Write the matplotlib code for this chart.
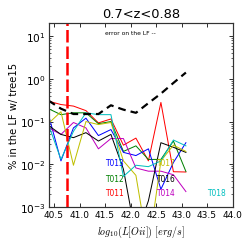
import matplotlib
matplotlib.use("Agg")
import matplotlib.pyplot as plt

plt.rcParams['mathtext.fontset'] = 'cm'

# luminosity bins, log10(L[OII]) in erg/s
lum = [40.39, 40.635, 40.88, 41.125, 41.37, 41.615, 41.86, 42.105, 42.35, 42.595, 42.84, 43.085]

t011 = [0.30, 0.25, 0.23, 0.18, 0.093, 0.115, 0.028, 0.041, 0.012, 0.28, 0.0067, 0.0066]
t012 = [0.20, 0.145, 0.16, 0.16, 0.089, 0.10, 0.020, 0.027, 0.013, 0.013, 0.035, 0.0068]
t013 = [0.145, 0.012, 0.071, 0.12, 0.047, 0.065, 0.019, 0.016, 0.023, 0.0026, 0.011, 0.032]
t014 = [0.071, 0.050, 0.095, 0.071, 0.023, 0.040, 0.040, 0.0082, 0.0069, 0.0069, 0.0057, 0.0023]
t016 = [0.081, 0.050, 0.042, 0.055, 0.035, 0.050, 0.0077, 0.0002, 0.0014, 0.032, 0.025, 0.019]
t017 = [0.09, 0.17, 0.0095, 0.10, 0.085, 0.095, 0.012, 0.0055, 0.0001, 0.012, 0.028, 0.020]
t018 = [0.085, 0.013, 0.059, 0.16, 0.145, 0.145, 0.0052, 0.0095, 0.0088, 0.012, 0.037, 0.027]
lf_error = [0.31, 0.20, 0.15, 0.15, 0.15, 0.24, 0.19, 0.16, 0.27, 0.45, 0.8, 1.4]

lum_limit = 40.75

series = [
    ("T011", t011, 'r', 41.5, 0.0022),
    ("T012", t012, 'g', 41.5, 0.0045),
    ("T013", t013, 'b', 41.5, 0.011),
    ("T014", t014, 'm', 42.5, 0.0022),
    ("T016", t016, 'k', 42.5, 0.0045),
    ("T017", t017, 'y', 42.5, 0.011),
    ("T018", t018, 'c', 43.5, 0.0022),
]

fig = plt.figure(figsize=(3.4, 3.4), dpi=72)
ax = fig.add_axes([0.2, 0.151, 0.75, 0.751])

for name, vals, col, tx, ty in series:
    ax.plot(lum, vals, color=col, lw=1)
    ax.text(tx, ty, name, color=col, fontsize=7.5, va='center')

ax.plot(lum, lf_error, 'k--', lw=2.2, dashes=(3.5, 2.3))
ax.axvline(lum_limit, color='r', lw=2.5, ls='--', dashes=(5, 1.6))
ax.text(41.5, 12, "error on the LF --", fontsize=6, va='center')

ax.set_yscale('log')
ax.set_xlim(40.4, 44.0)
ax.set_ylim(1e-3, 20)
ax.set_xticks([40.5, 41.0, 41.5, 42.0, 42.5, 43.0, 43.5, 44.0])
ax.tick_params(which='both', direction='in', top=True, right=True)
ax.tick_params(axis='x', labelsize=9)
ax.tick_params(axis='y', labelsize=10.5, pad=3)
ax.tick_params(which='major', length=4)
ax.tick_params(which='minor', length=2)
for s in ax.spines.values():
    s.set_color('#333333')
    s.set_linewidth(1.2)

ax.set_xlabel(r'$log_{10}(L[Oii])\ [erg/s]$', fontsize=10)
ax.set_ylabel('% in the LF w/ tree15', fontsize=10, labelpad=1)
ax.set_title('0.7<z<0.88', fontsize=13)

fig.savefig('out.png', dpi=72)
